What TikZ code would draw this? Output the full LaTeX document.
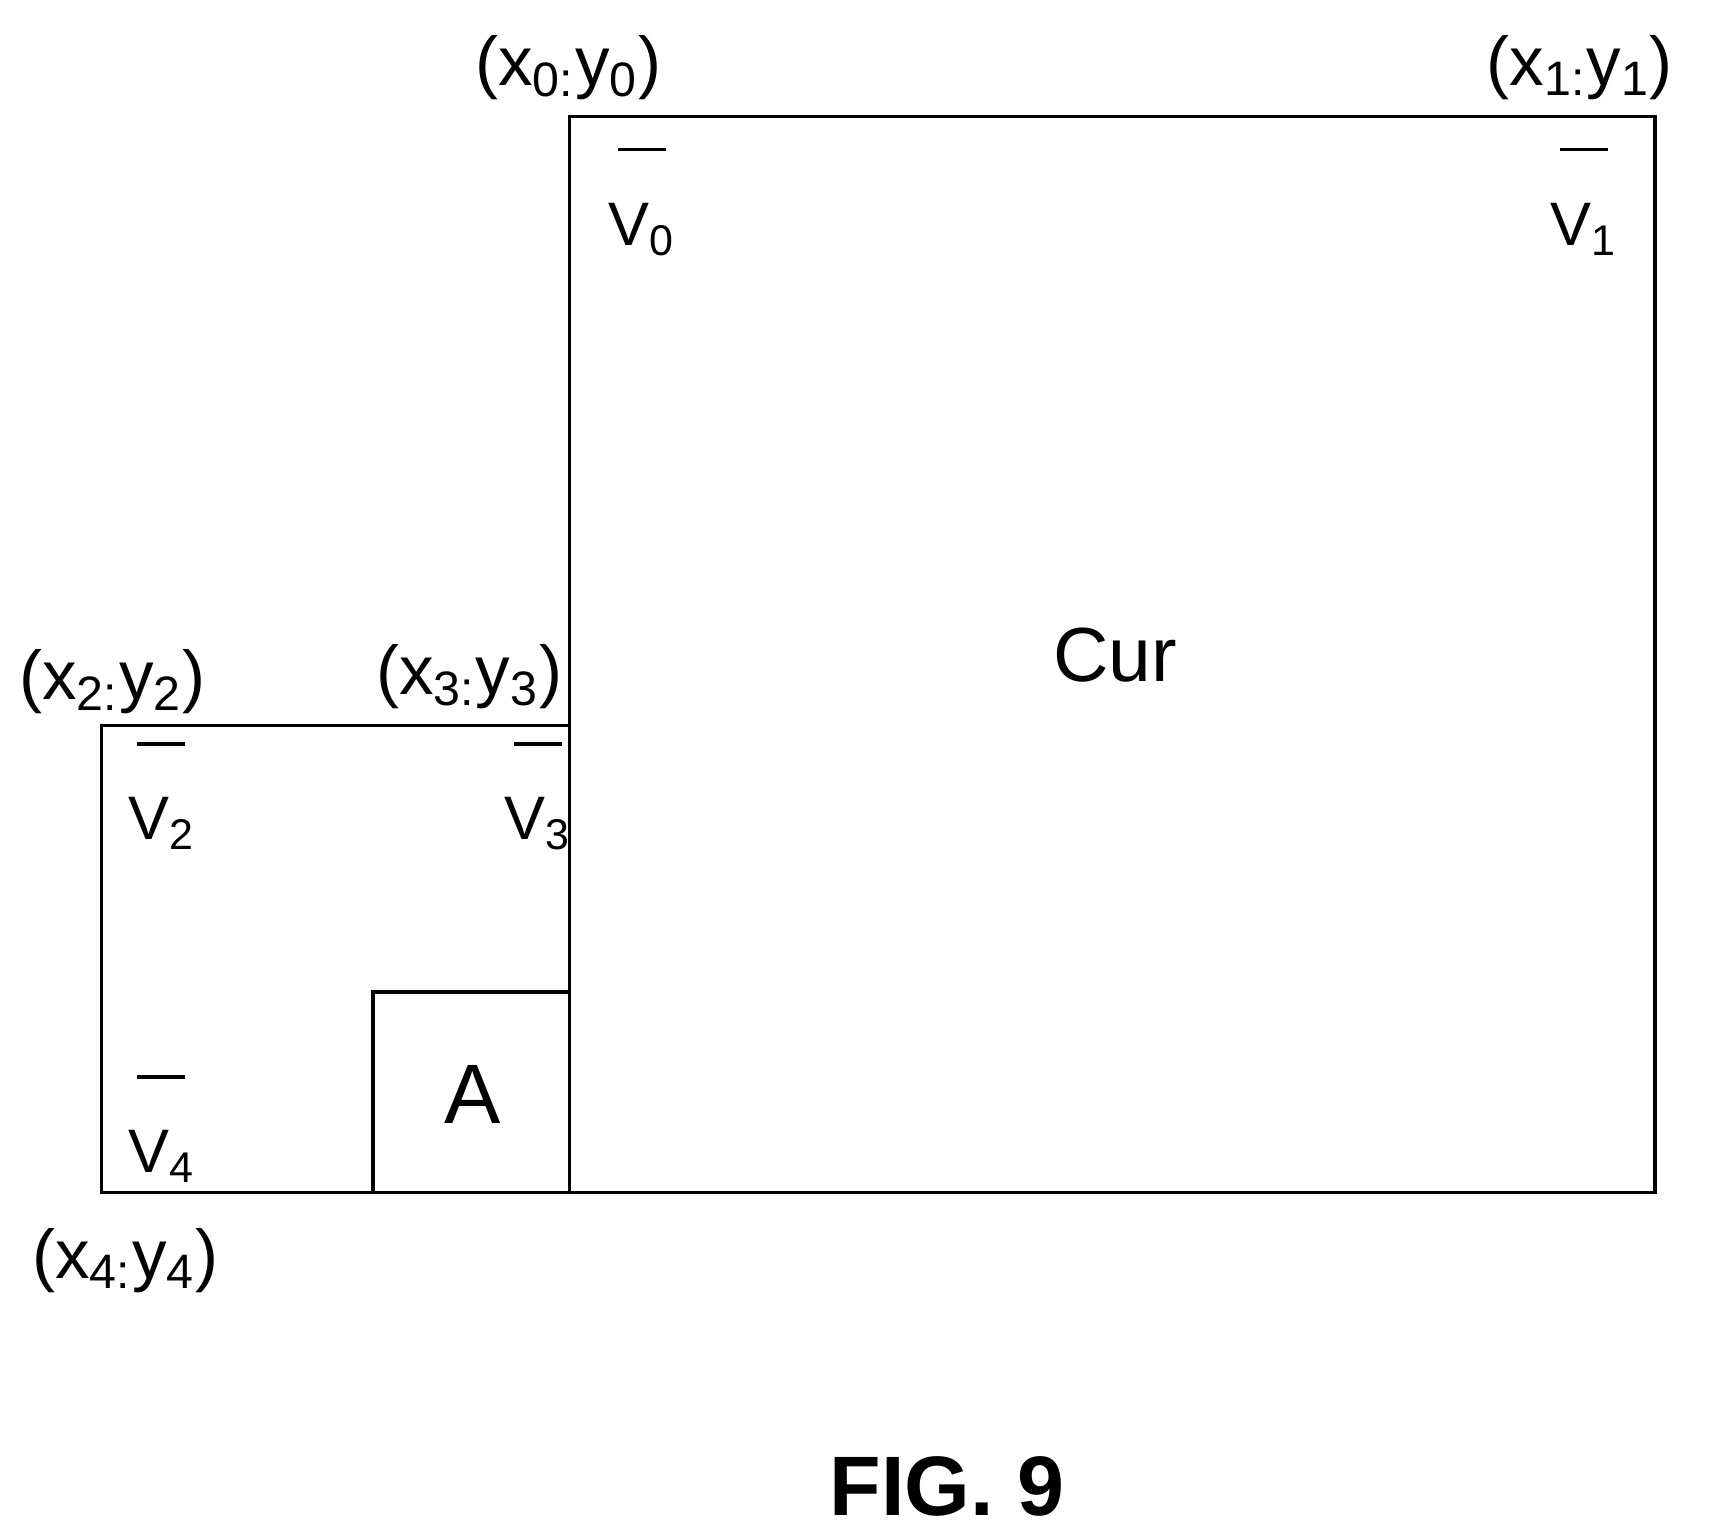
\documentclass[tikz,border=0pt]{standalone}
\usepackage{fontspec}
\setmainfont{Liberation Sans}
\usetikzlibrary{positioning}
\tikzset{box/.style={draw,line width=0.9pt},
  coord/.style={font=\fontsize{18}{20}\selectfont},
  vlab/.style={font=\fontsize{16}{18}\selectfont}}
\newcommand{\xy}[1]{(x\textsubscript{#1:}y\textsubscript{#1})}
\newcommand{\vv}[1]{V\textsubscript{#1}}
\begin{document}
\begin{tikzpicture}[x=0.01cm,y=-0.01cm]
          \useasboundingbox (0,0) rectangle (1570,1411);
          \draw[box] (522,107) rectangle (1517,1093);
          \draw[box] (522,665) -- (93,665) -- (93,1093) -- (522,1093);
          \draw[box] (522,909) -- (342,909) -- (342,1093);

          \node[font=\fontsize{20}{22}\selectfont] (cur) at (1022,600) {Cur};
          \node[font=\fontsize{22}{24}\selectfont] (a) at (433,1003) {A};

          \node[coord] (c0) at (521,62) {\xy{0}};
          \node[coord] (c1) at (1448,62) {\xy{1}};
          \node[coord] (c2) at (103,625) {\xy{2}};
          \node[coord] (c3) at (430,620) {\xy{3}};
          \node[coord] (c4) at (115,1155) {\xy{4}};

          \foreach \i/\x/\y in {0/588/210,1/1452/210,2/148/755,3/493/755,4/148/1060}{
            \node[vlab] (v\i) at (\x,\y) {\vv{\i}};
            \draw[line width=0.9pt] (\x-22,\y-73) -- (\x+22,\y-73);
          }

          \node[font=\bfseries\fontsize{22}{24}\selectfont] (fig) at (868,1362) {FIG. 9};
        \end{tikzpicture}
\end{document}
